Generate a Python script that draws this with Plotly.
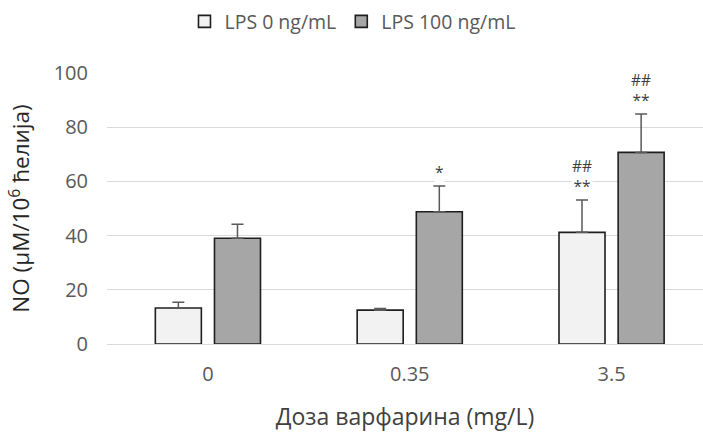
import plotly.graph_objects as go

categories = ["0", "0.35", "3.5"]
series_names = ["LPS 0 ng/mL", "LPS 100 ng/mL"]
lps0_mean = [13.3, 12.5, 41.2]
lps0_err = [2.1, 0.6, 11.9]
lps100_mean = [39.0, 48.8, 70.7]
lps100_err = [5.2, 9.5, 14.2]
lps0_labels = ["", "", "##<br>**"]
lps100_labels = ["", "*", "##<br>**"]
y_ticks = [0, 20, 40, 60, 80, 100]

FONT = "Open Sans, sans-serif"
fills = ["#f2f2f2", "#a6a6a6"]

fig = go.Figure()
for name, means, errs, fill in [
    (series_names[0], lps0_mean, lps0_err, fills[0]),
    (series_names[1], lps100_mean, lps100_err, fills[1]),
]:
    fig.add_trace(go.Bar(
        x=categories, y=means, name=name,
        marker=dict(color=fill, line=dict(color="#1f1f1f", width=1.6)),
        error_y=dict(type="data", array=errs, arrayminus=[0] * len(errs),
                     symmetric=False, color="#595959", thickness=1.5, width=6),
    ))

bargap = 0.414
bargroupgap = 0.222
slot = (1 - bargap) / 2
offsets = [-slot / 2, slot / 2]

for k, (means, errs, labels) in enumerate([
    (lps0_mean, lps0_err, lps0_labels),
    (lps100_mean, lps100_err, lps100_labels),
]):
    for i, lab in enumerate(labels):
        if not lab:
            continue
        fig.add_annotation(
            x=i + offsets[k], y=means[i] + errs[i], xref="x", yref="y",
            text=lab, showarrow=False, yanchor="bottom", yshift=2,
            font=dict(family=FONT, size=15.5, color="#404040"),
            bgcolor="white", borderpad=0,
        )

fig.update_layout(
    width=703, height=432,
    margin=dict(l=107, r=0, t=73, b=88),
    paper_bgcolor="white", plot_bgcolor="white",
    barmode="group", bargap=bargap, bargroupgap=bargroupgap,
    font=dict(family=FONT, color="#595959", size=19),
    legend=dict(orientation="h", x=0.13, xanchor="left", y=0.995, yanchor="top",
                yref="container", font=dict(family=FONT, size=19.5, color="#595959"),
                itemwidth=30, traceorder="normal"),
    showlegend=True,
)
fig.update_xaxes(
    type="category", range=[-0.5, 2.453],
    showgrid=False, showline=False, ticks="",
    tickfont=dict(family=FONT, size=20, color="#595959"),
    ticklabelstandoff=16,
    title=dict(text="Доза варфарина (mg/L)", font=dict(family=FONT, size=23, color="#404040"), standoff=26),
    automargin=False,
)
fig.update_yaxes(
    range=[0, 100], tickvals=y_ticks,
    showgrid=True, gridcolor="#d9d9d9", gridwidth=1,
    zeroline=True, zerolinecolor="#d9d9d9", zerolinewidth=1,
    showline=False, ticks="",
    tickfont=dict(family=FONT, size=20, color="#595959"),
    ticklabelstandoff=18,
    title=dict(text="NO (µM/10<sup>6</sup> ћелија)", font=dict(family=FONT, size=22.5, color="#262626"), standoff=17),
    automargin=False,
)

fig.write_html("out.html")
